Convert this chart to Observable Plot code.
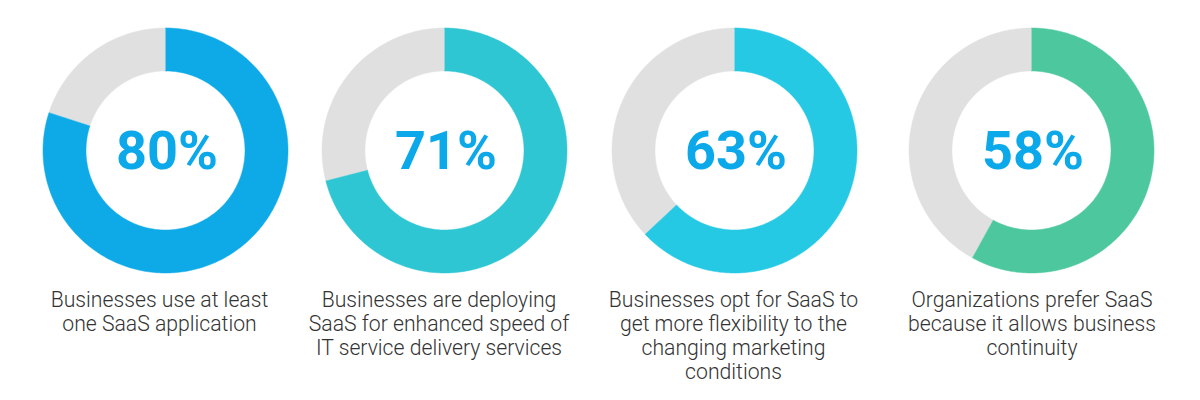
<!DOCTYPE html>
<html>
<head>
<meta charset="utf-8">
<script src="https://cdn.jsdelivr.net/npm/d3@7"></script>
<script src="https://cdn.jsdelivr.net/npm/@observablehq/plot@0.6"></script>
<style>
  html, body { margin: 0; padding: 0; background: #ffffff; }
  #wrap { position: relative; width: 1200px; height: 400px; overflow: hidden; font-family: Roboto, "Noto Sans", sans-serif; }
  .donut { position: absolute; top: 25px; width: 250px; height: 250px; }
  .caption { position: absolute; top: 288px; width: 300px; text-align: center; font-family: Roboto, sans-serif; font-weight: 300; font-size: 21.2px; line-height: 24px; color: #333333; }
</style>
</head>
<body>
<div id="wrap"></div>
<script>
// ---- data ----
const labels = ["80%", "71%", "63%", "58%"];
const values = [80, 71, 63, 58];
const captions = [
  ["Businesses use at least", "one SaaS application"],
  ["Businesses are deploying", "SaaS for enhanced speed of", "IT service delivery services"],
  ["Businesses opt for SaaS to", "get more flexibility to the", "changing marketing", "conditions"],
  ["Organizations prefer SaaS", "because it allows business", "continuity"]
];
const colors = ["#0eaae8", "#2ec6d2", "#25c9e4", "#4dc89e"];

// ---- layout (pixels) ----
const centersX = [164.5, 443.5, 733.5, 1030.5];
const captionX = [159.5, 439, 733.5, 1032];
const SIZE = 250, R_OUT = 122.5, R_IN = 79.5;

function ring(a0, a1, part) {
  const n = Math.max(2, Math.ceil((a1 - a0) / (Math.PI / 180)));
  const pts = [];
  for (let i = 0; i <= n; i++) {
    const a = a0 + (a1 - a0) * i / n;
    pts.push({x: R_OUT * Math.sin(a), y: R_OUT * Math.cos(a), part});
  }
  for (let i = n; i >= 0; i--) {
    const a = a0 + (a1 - a0) * i / n;
    pts.push({x: R_IN * Math.sin(a), y: R_IN * Math.cos(a), part});
  }
  return pts;
}

const wrap = document.getElementById("wrap");
values.forEach((v, i) => {
  const split = 2 * Math.PI * v / 100;
  const filled = ring(0, split, "value");
  const rest = ring(split, 2 * Math.PI, "rest");
  const chart = Plot.plot({
    width: SIZE, height: SIZE,
    margin: 0,
    x: {domain: [-SIZE / 2, SIZE / 2], axis: null},
    y: {domain: [-SIZE / 2, SIZE / 2], axis: null},
    style: {background: "transparent", overflow: "visible"},
    marks: [
      Plot.line(rest, {x: "x", y: "y", fill: "#e0e0e0", stroke: "#e0e0e0", strokeWidth: 0.5, curve: "linear"}),
      Plot.line(filled, {x: "x", y: "y", fill: colors[i], stroke: colors[i], strokeWidth: 0.5, curve: "linear"}),
      Plot.text([labels[i]], {x: () => 0, y: () => 0, text: d => d, fontSize: 54, fontWeight: 700, fontFamily: "Roboto", fill: "#0ba8ea", textAnchor: "middle", lineAnchor: "middle", dx: 1.5, dy: 1})
    ]
  });
  const d = document.createElement("div");
  d.className = "donut";
  d.style.left = (centersX[i] - SIZE / 2) + "px";
  d.appendChild(chart);
  wrap.appendChild(d);

  const c = document.createElement("div");
  c.className = "caption";
  c.style.left = (captionX[i] - 150) + "px";
  c.innerHTML = captions[i].join("<br>");
  wrap.appendChild(c);
});
</script>
</body>
</html>
